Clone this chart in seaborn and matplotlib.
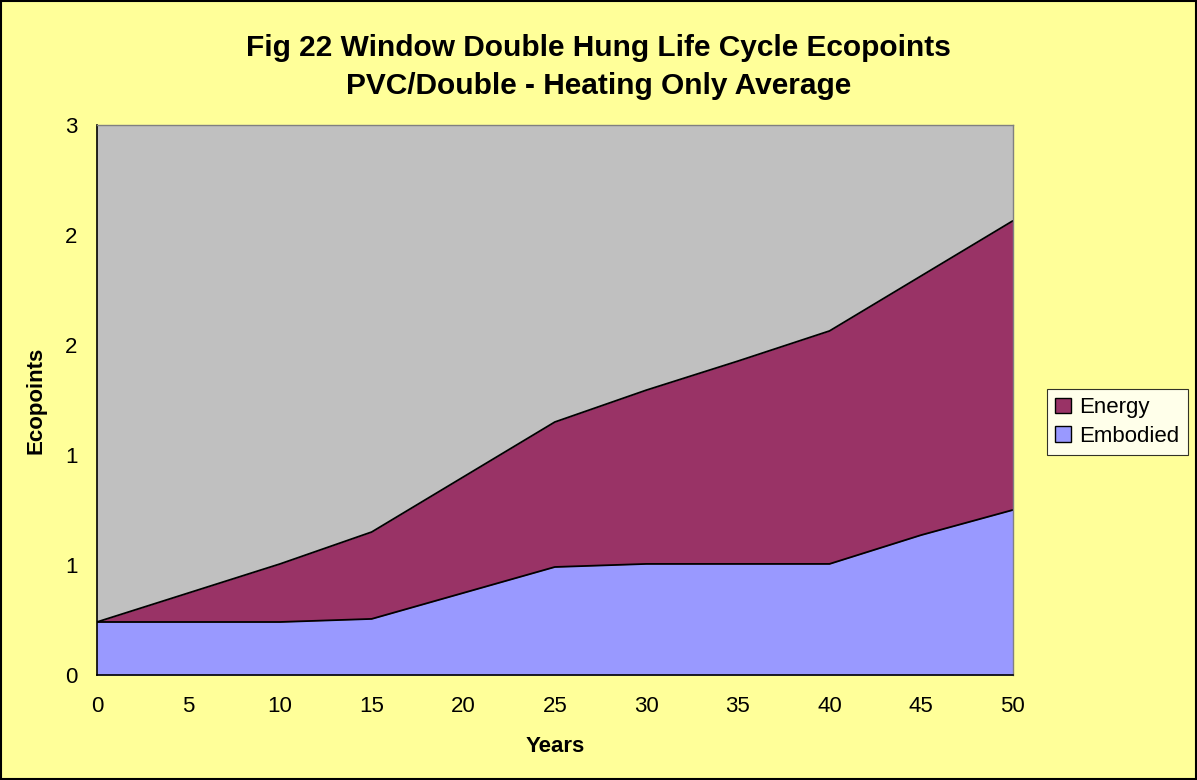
import numpy as np
import pandas as pd
import seaborn as sns
import matplotlib.pyplot as plt
from matplotlib.patches import Patch

years = [0, 5, 10, 15, 20, 25, 30, 35, 40, 45, 50]
embodied = [0.241, 0.241, 0.241, 0.255, 0.373, 0.491, 0.505, 0.505, 0.505, 0.636, 0.75]
energy = [0.0, 0.132, 0.264, 0.395, 0.527, 0.659, 0.79, 0.922, 1.059, 1.178, 1.314]
ytick_vals = [0, 0.5, 1.0, 1.5, 2.0, 2.5]
ytick_labels = ["0", "1", "1", "2", "2", "3"]

df = pd.DataFrame({"Years": years, "Embodied": embodied, "Energy": energy})
df["Total"] = df["Embodied"] + df["Energy"]

sns.set_style("white")
plt.rcParams['font.family'] = ['Liberation Sans', 'DejaVu Sans']
plt.rcParams['text.color'] = 'black'
plt.rcParams['xtick.color'] = 'black'
plt.rcParams['ytick.color'] = 'black'
plt.rcParams['axes.labelcolor'] = 'black'

fig = plt.figure(figsize=(11.97, 7.8), dpi=100, facecolor='#FFFF99')
ax = fig.add_axes([0.081, 0.1346, 0.765, 0.7051])
ax.set_facecolor('#C0C0C0')

ax.stackplot(df["Years"], df["Embodied"], df["Energy"],
             colors=['#9999FF', '#993366'], linewidth=0)
sns.lineplot(data=df, x="Years", y="Embodied", color='black', lw=1.3, ax=ax)
sns.lineplot(data=df, x="Years", y="Total", color='black', lw=1.3, ax=ax)

ax.set_xlim(0, 50)
ax.set_ylim(0, 2.5)
ax.set_xticks(years)
ax.set_xticklabels([str(y) for y in years], fontsize=16)
ax.set_yticks(ytick_vals)
ax.set_yticklabels(ytick_labels, fontsize=16)
ax.tick_params(axis='x', length=6, width=1, direction='out', pad=9)
ax.tick_params(axis='y', length=0, pad=14)
for s in ['top', 'right']:
    ax.spines[s].set_color('#808080')
    ax.spines[s].set_linewidth(1)
for s in ['left', 'bottom']:
    ax.spines[s].set_color('black')
    ax.spines[s].set_linewidth(1.2)

ax.set_xlabel("Years", fontsize=16, fontweight='bold', labelpad=14)
ax.set_ylabel("Ecopoints", fontsize=16, fontweight='bold')
ax.yaxis.set_label_coords(-0.055, 0.5)

fig.suptitle("Fig 22 Window Double Hung Life Cycle Ecopoints\nPVC/Double - Heating Only Average",
             fontsize=21.5, fontweight='bold', y=0.956, linespacing=1.42)

handles = [Patch(facecolor='#993366', edgecolor='black', label='Energy'),
           Patch(facecolor='#9999FF', edgecolor='black', label='Embodied')]
leg = fig.legend(handles=handles, loc='center left', bbox_to_anchor=(0.875, 0.459),
                 fontsize=16, frameon=True, fancybox=False, handlelength=0.7,
                 handleheight=0.7, handletextpad=0.4, borderpad=0.35, labelspacing=0.35,
                 borderaxespad=0)
leg.get_frame().set_edgecolor('black')
leg.get_frame().set_facecolor('white')
leg.get_frame().set_linewidth(0.8)

fig.patches.append(plt.Rectangle((0.001, 0.001), 0.998, 0.998, transform=fig.transFigure,
                                 fill=False, edgecolor='black', linewidth=1.5))

fig.savefig("out.png", dpi=100, facecolor=fig.get_facecolor())
